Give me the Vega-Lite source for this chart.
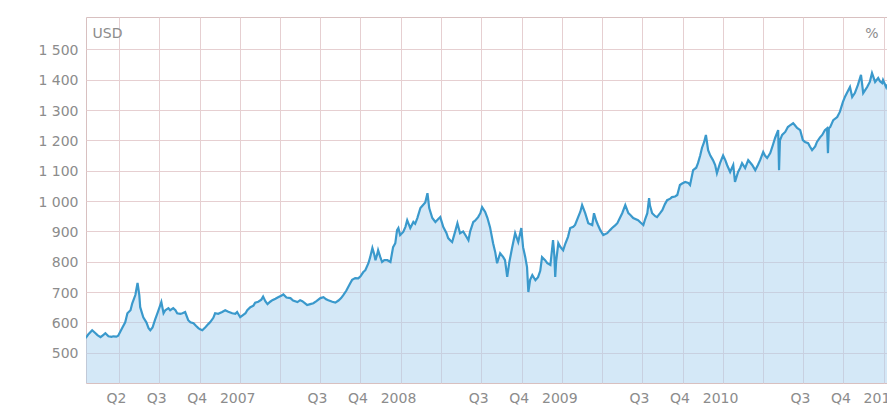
{
  "$schema": "https://vega.github.io/schema/vega-lite/v6.json",
  "width": 801,
  "height": 366,
  "autosize": {"type": "none"},
  "padding": {"left": 86, "top": 17, "right": 0, "bottom": 25},
  "background": "white",
  "config": {
    "view": {"stroke": "#d8c0c0", "strokeWidth": 1},
    "axis": {"labelFont": "DejaVu Sans", "labelFontSize": 14, "labelColor": "#8c8c8c", "titleFont": "DejaVu Sans", "titleColor": "#8c8c8c", "titleFontWeight": "normal", "titleFontSize": 14}
  },
  "data": {"values": [
    {"date": "2006-01-15", "usd": 548}, {"date": "2006-01-21", "usd": 560}, {"date": "2006-01-30", "usd": 574}, {"date": "2006-02-06", "usd": 565},
    {"date": "2006-02-11", "usd": 558}, {"date": "2006-02-18", "usd": 551}, {"date": "2006-02-24", "usd": 558}, {"date": "2006-03-01", "usd": 564},
    {"date": "2006-03-08", "usd": 554}, {"date": "2006-03-15", "usd": 552}, {"date": "2006-03-19", "usd": 554}, {"date": "2006-03-26", "usd": 553},
    {"date": "2006-03-30", "usd": 556}, {"date": "2006-04-04", "usd": 570}, {"date": "2006-04-09", "usd": 584}, {"date": "2006-04-15", "usd": 600},
    {"date": "2006-04-20", "usd": 630}, {"date": "2006-04-27", "usd": 640}, {"date": "2006-05-01", "usd": 663}, {"date": "2006-05-08", "usd": 690},
    {"date": "2006-05-13", "usd": 730}, {"date": "2006-05-17", "usd": 690}, {"date": "2006-05-19", "usd": 650}, {"date": "2006-05-26", "usd": 617},
    {"date": "2006-06-02", "usd": 600}, {"date": "2006-06-07", "usd": 581}, {"date": "2006-06-11", "usd": 574}, {"date": "2006-06-16", "usd": 583},
    {"date": "2006-06-22", "usd": 610}, {"date": "2006-06-27", "usd": 630}, {"date": "2006-07-02", "usd": 650}, {"date": "2006-07-06", "usd": 667},
    {"date": "2006-07-11", "usd": 630}, {"date": "2006-07-15", "usd": 640}, {"date": "2006-07-22", "usd": 647}, {"date": "2006-07-26", "usd": 640},
    {"date": "2006-08-02", "usd": 647}, {"date": "2006-08-07", "usd": 640}, {"date": "2006-08-11", "usd": 630}, {"date": "2006-08-18", "usd": 628},
    {"date": "2006-08-23", "usd": 630}, {"date": "2006-08-29", "usd": 634}, {"date": "2006-09-05", "usd": 607}, {"date": "2006-09-10", "usd": 600},
    {"date": "2006-09-17", "usd": 597}, {"date": "2006-09-23", "usd": 588}, {"date": "2006-09-28", "usd": 581}, {"date": "2006-10-02", "usd": 577},
    {"date": "2006-10-07", "usd": 574}, {"date": "2006-10-14", "usd": 584}, {"date": "2006-10-21", "usd": 595}, {"date": "2006-10-25", "usd": 601},
    {"date": "2006-11-01", "usd": 615}, {"date": "2006-11-05", "usd": 630}, {"date": "2006-11-12", "usd": 628}, {"date": "2006-11-21", "usd": 634},
    {"date": "2006-11-28", "usd": 640}, {"date": "2006-12-05", "usd": 635}, {"date": "2006-12-14", "usd": 630}, {"date": "2006-12-21", "usd": 628},
    {"date": "2006-12-25", "usd": 634}, {"date": "2007-01-01", "usd": 617}, {"date": "2007-01-08", "usd": 625}, {"date": "2007-01-13", "usd": 630},
    {"date": "2007-01-17", "usd": 640}, {"date": "2007-01-24", "usd": 650}, {"date": "2007-01-31", "usd": 655}, {"date": "2007-02-04", "usd": 665},
    {"date": "2007-02-11", "usd": 668}, {"date": "2007-02-18", "usd": 675}, {"date": "2007-02-22", "usd": 685}, {"date": "2007-02-27", "usd": 670},
    {"date": "2007-03-04", "usd": 660}, {"date": "2007-03-10", "usd": 668}, {"date": "2007-03-15", "usd": 673}, {"date": "2007-03-22", "usd": 678},
    {"date": "2007-03-28", "usd": 683}, {"date": "2007-04-04", "usd": 688}, {"date": "2007-04-09", "usd": 692}, {"date": "2007-04-16", "usd": 682},
    {"date": "2007-04-25", "usd": 680}, {"date": "2007-05-01", "usd": 672}, {"date": "2007-05-11", "usd": 667}, {"date": "2007-05-17", "usd": 673},
    {"date": "2007-05-22", "usd": 670}, {"date": "2007-05-29", "usd": 662}, {"date": "2007-06-02", "usd": 657}, {"date": "2007-06-09", "usd": 660},
    {"date": "2007-06-16", "usd": 663}, {"date": "2007-06-23", "usd": 670}, {"date": "2007-07-02", "usd": 680}, {"date": "2007-07-09", "usd": 683},
    {"date": "2007-07-15", "usd": 676}, {"date": "2007-07-20", "usd": 673}, {"date": "2007-07-29", "usd": 668}, {"date": "2007-08-05", "usd": 665},
    {"date": "2007-08-12", "usd": 672}, {"date": "2007-08-18", "usd": 680}, {"date": "2007-08-23", "usd": 690}, {"date": "2007-08-30", "usd": 705},
    {"date": "2007-09-08", "usd": 730}, {"date": "2007-09-12", "usd": 740}, {"date": "2007-09-19", "usd": 746}, {"date": "2007-09-26", "usd": 745},
    {"date": "2007-10-01", "usd": 752}, {"date": "2007-10-07", "usd": 765}, {"date": "2007-10-12", "usd": 772}, {"date": "2007-10-19", "usd": 795},
    {"date": "2007-10-23", "usd": 815}, {"date": "2007-10-28", "usd": 845}, {"date": "2007-11-01", "usd": 825}, {"date": "2007-11-04", "usd": 805},
    {"date": "2007-11-08", "usd": 825}, {"date": "2007-11-10", "usd": 838}, {"date": "2007-11-15", "usd": 815}, {"date": "2007-11-19", "usd": 799},
    {"date": "2007-11-24", "usd": 805}, {"date": "2007-12-01", "usd": 805}, {"date": "2007-12-08", "usd": 799}, {"date": "2007-12-14", "usd": 848},
    {"date": "2007-12-19", "usd": 861}, {"date": "2007-12-23", "usd": 904}, {"date": "2007-12-26", "usd": 911}, {"date": "2007-12-30", "usd": 888},
    {"date": "2008-01-06", "usd": 898}, {"date": "2008-01-11", "usd": 915}, {"date": "2008-01-15", "usd": 937}, {"date": "2008-01-22", "usd": 911},
    {"date": "2008-01-29", "usd": 931}, {"date": "2008-02-02", "usd": 925}, {"date": "2008-02-07", "usd": 944}, {"date": "2008-02-14", "usd": 977},
    {"date": "2008-02-20", "usd": 987}, {"date": "2008-02-25", "usd": 995}, {"date": "2008-03-01", "usd": 1026}, {"date": "2008-03-05", "usd": 977},
    {"date": "2008-03-12", "usd": 944}, {"date": "2008-03-19", "usd": 931}, {"date": "2008-03-25", "usd": 940}, {"date": "2008-03-30", "usd": 947},
    {"date": "2008-04-06", "usd": 914}, {"date": "2008-04-13", "usd": 895}, {"date": "2008-04-17", "usd": 878}, {"date": "2008-04-22", "usd": 870},
    {"date": "2008-04-26", "usd": 865}, {"date": "2008-05-03", "usd": 900}, {"date": "2008-05-08", "usd": 927}, {"date": "2008-05-14", "usd": 894},
    {"date": "2008-05-21", "usd": 900}, {"date": "2008-05-26", "usd": 888}, {"date": "2008-06-02", "usd": 871}, {"date": "2008-06-06", "usd": 900},
    {"date": "2008-06-13", "usd": 931}, {"date": "2008-06-17", "usd": 935}, {"date": "2008-06-24", "usd": 947}, {"date": "2008-06-29", "usd": 960},
    {"date": "2008-07-03", "usd": 980}, {"date": "2008-07-10", "usd": 964}, {"date": "2008-07-15", "usd": 945}, {"date": "2008-07-21", "usd": 914},
    {"date": "2008-07-28", "usd": 861}, {"date": "2008-08-02", "usd": 830}, {"date": "2008-08-06", "usd": 795}, {"date": "2008-08-13", "usd": 828},
    {"date": "2008-08-20", "usd": 815}, {"date": "2008-08-24", "usd": 805}, {"date": "2008-08-29", "usd": 750}, {"date": "2008-09-03", "usd": 800},
    {"date": "2008-09-09", "usd": 845}, {"date": "2008-09-16", "usd": 894}, {"date": "2008-09-23", "usd": 865}, {"date": "2008-09-30", "usd": 911},
    {"date": "2008-10-04", "usd": 848}, {"date": "2008-10-09", "usd": 815}, {"date": "2008-10-13", "usd": 782}, {"date": "2008-10-16", "usd": 700},
    {"date": "2008-10-20", "usd": 740}, {"date": "2008-10-25", "usd": 756}, {"date": "2008-11-01", "usd": 739}, {"date": "2008-11-07", "usd": 749},
    {"date": "2008-11-12", "usd": 770}, {"date": "2008-11-16", "usd": 815}, {"date": "2008-11-23", "usd": 805}, {"date": "2008-11-28", "usd": 795},
    {"date": "2008-12-05", "usd": 789}, {"date": "2008-12-11", "usd": 871}, {"date": "2008-12-14", "usd": 820}, {"date": "2008-12-16", "usd": 750},
    {"date": "2008-12-18", "usd": 800}, {"date": "2008-12-23", "usd": 861}, {"date": "2008-12-27", "usd": 850}, {"date": "2009-01-03", "usd": 838},
    {"date": "2009-01-08", "usd": 860}, {"date": "2009-01-14", "usd": 882}, {"date": "2009-01-19", "usd": 911}, {"date": "2009-01-26", "usd": 915},
    {"date": "2009-01-30", "usd": 921}, {"date": "2009-02-06", "usd": 947}, {"date": "2009-02-11", "usd": 965}, {"date": "2009-02-15", "usd": 987},
    {"date": "2009-02-22", "usd": 960}, {"date": "2009-03-01", "usd": 927}, {"date": "2009-03-10", "usd": 921}, {"date": "2009-03-14", "usd": 960},
    {"date": "2009-03-19", "usd": 935}, {"date": "2009-03-23", "usd": 921}, {"date": "2009-03-28", "usd": 905}, {"date": "2009-04-04", "usd": 888},
    {"date": "2009-04-13", "usd": 894}, {"date": "2009-04-20", "usd": 905}, {"date": "2009-04-24", "usd": 911}, {"date": "2009-05-01", "usd": 920},
    {"date": "2009-05-06", "usd": 927}, {"date": "2009-05-12", "usd": 945}, {"date": "2009-05-17", "usd": 960}, {"date": "2009-05-24", "usd": 987},
    {"date": "2009-05-31", "usd": 960}, {"date": "2009-06-04", "usd": 955}, {"date": "2009-06-11", "usd": 944}, {"date": "2009-06-22", "usd": 937},
    {"date": "2009-06-27", "usd": 930}, {"date": "2009-07-04", "usd": 921}, {"date": "2009-07-08", "usd": 940}, {"date": "2009-07-13", "usd": 960},
    {"date": "2009-07-17", "usd": 1010}, {"date": "2009-07-19", "usd": 985}, {"date": "2009-07-24", "usd": 960}, {"date": "2009-07-31", "usd": 950},
    {"date": "2009-08-04", "usd": 947}, {"date": "2009-08-11", "usd": 960}, {"date": "2009-08-16", "usd": 970}, {"date": "2009-08-22", "usd": 990},
    {"date": "2009-08-27", "usd": 1003}, {"date": "2009-09-03", "usd": 1008}, {"date": "2009-09-07", "usd": 1013}, {"date": "2009-09-14", "usd": 1015},
    {"date": "2009-09-19", "usd": 1020}, {"date": "2009-09-25", "usd": 1053}, {"date": "2009-09-30", "usd": 1058}, {"date": "2009-10-07", "usd": 1063},
    {"date": "2009-10-14", "usd": 1060}, {"date": "2009-10-18", "usd": 1053}, {"date": "2009-10-25", "usd": 1102}, {"date": "2009-11-01", "usd": 1110},
    {"date": "2009-11-05", "usd": 1125}, {"date": "2009-11-10", "usd": 1150}, {"date": "2009-11-14", "usd": 1175}, {"date": "2009-11-19", "usd": 1195},
    {"date": "2009-11-23", "usd": 1218}, {"date": "2009-11-28", "usd": 1168}, {"date": "2009-12-03", "usd": 1150}, {"date": "2009-12-09", "usd": 1135},
    {"date": "2009-12-14", "usd": 1119}, {"date": "2009-12-18", "usd": 1092}, {"date": "2009-12-25", "usd": 1125}, {"date": "2010-01-01", "usd": 1150},
    {"date": "2010-01-06", "usd": 1135}, {"date": "2010-01-10", "usd": 1119}, {"date": "2010-01-17", "usd": 1096}, {"date": "2010-01-24", "usd": 1119},
    {"date": "2010-01-28", "usd": 1063}, {"date": "2010-02-04", "usd": 1096}, {"date": "2010-02-09", "usd": 1110}, {"date": "2010-02-13", "usd": 1125},
    {"date": "2010-02-20", "usd": 1109}, {"date": "2010-02-27", "usd": 1135}, {"date": "2010-03-03", "usd": 1128}, {"date": "2010-03-08", "usd": 1119},
    {"date": "2010-03-15", "usd": 1102}, {"date": "2010-03-21", "usd": 1119}, {"date": "2010-03-26", "usd": 1135}, {"date": "2010-04-02", "usd": 1162},
    {"date": "2010-04-06", "usd": 1150}, {"date": "2010-04-11", "usd": 1142}, {"date": "2010-04-18", "usd": 1158}, {"date": "2010-04-24", "usd": 1185},
    {"date": "2010-04-29", "usd": 1208}, {"date": "2010-05-06", "usd": 1234}, {"date": "2010-05-08", "usd": 1102}, {"date": "2010-05-10", "usd": 1200},
    {"date": "2010-05-15", "usd": 1218}, {"date": "2010-05-22", "usd": 1228}, {"date": "2010-05-28", "usd": 1244}, {"date": "2010-06-02", "usd": 1250},
    {"date": "2010-06-09", "usd": 1257}, {"date": "2010-06-13", "usd": 1250}, {"date": "2010-06-18", "usd": 1241}, {"date": "2010-06-25", "usd": 1234},
    {"date": "2010-07-01", "usd": 1201}, {"date": "2010-07-06", "usd": 1195}, {"date": "2010-07-13", "usd": 1191}, {"date": "2010-07-17", "usd": 1180},
    {"date": "2010-07-22", "usd": 1168}, {"date": "2010-07-29", "usd": 1180}, {"date": "2010-08-02", "usd": 1195}, {"date": "2010-08-09", "usd": 1210},
    {"date": "2010-08-14", "usd": 1218}, {"date": "2010-08-20", "usd": 1234}, {"date": "2010-08-25", "usd": 1240}, {"date": "2010-08-27", "usd": 1158},
    {"date": "2010-08-29", "usd": 1240}, {"date": "2010-09-01", "usd": 1244}, {"date": "2010-09-08", "usd": 1267}, {"date": "2010-09-17", "usd": 1277},
    {"date": "2010-09-23", "usd": 1294}, {"date": "2010-09-30", "usd": 1327}, {"date": "2010-10-05", "usd": 1345}, {"date": "2010-10-09", "usd": 1356},
    {"date": "2010-10-16", "usd": 1376}, {"date": "2010-10-21", "usd": 1343}, {"date": "2010-10-27", "usd": 1356}, {"date": "2010-11-03", "usd": 1383},
    {"date": "2010-11-10", "usd": 1416}, {"date": "2010-11-15", "usd": 1356}, {"date": "2010-11-19", "usd": 1365}, {"date": "2010-11-24", "usd": 1376},
    {"date": "2010-11-30", "usd": 1393}, {"date": "2010-12-05", "usd": 1422}, {"date": "2010-12-12", "usd": 1393}, {"date": "2010-12-19", "usd": 1406},
    {"date": "2010-12-23", "usd": 1395}, {"date": "2010-12-28", "usd": 1389}, {"date": "2010-12-30", "usd": 1399}, {"date": "2011-01-06", "usd": 1376},
    {"date": "2011-01-08", "usd": 1385}
  ]},
  "encoding": {
    "x": {
      "field": "date",
      "type": "temporal",
      "scale": {"domain": [{"year": 2006, "month": 1, "date": 16}, {"year": 2011, "month": 1, "date": 8}]},
      "axis": {
        "title": null,
        "values": [
          {"year": 2006, "month": 4, "date": 1}, {"year": 2006, "month": 7, "date": 1}, {"year": 2006, "month": 10, "date": 1},
          {"year": 2007, "month": 1, "date": 1}, {"year": 2007, "month": 4, "date": 1}, {"year": 2007, "month": 7, "date": 1}, {"year": 2007, "month": 10, "date": 1},
          {"year": 2008, "month": 1, "date": 1}, {"year": 2008, "month": 4, "date": 1}, {"year": 2008, "month": 7, "date": 1}, {"year": 2008, "month": 10, "date": 1},
          {"year": 2009, "month": 1, "date": 1}, {"year": 2009, "month": 4, "date": 1}, {"year": 2009, "month": 7, "date": 1}, {"year": 2009, "month": 10, "date": 1},
          {"year": 2010, "month": 1, "date": 1}, {"year": 2010, "month": 4, "date": 1}, {"year": 2010, "month": 7, "date": 1}, {"year": 2010, "month": 10, "date": 1},
          {"year": 2011, "month": 1, "date": 1}
        ],
        "labelExpr": "month(datum.value) == 0 ? timeFormat(datum.value, '%Y') : (month(datum.value) == 3 ? (year(datum.value) == 2006 ? 'Q2' : '') : (month(datum.value) == 6 ? 'Q3' : 'Q4'))",
        "grid": true,
        "gridColor": "#e6cfd1",
        "gridOpacity": 1,
        "ticks": false,
        "domain": false,
        "labelPadding": 8,
        "labelOffset": -3,
        "labelOverlap": false,
        "labelBound": false,
        "labelFlush": false
      }
    }
  },
  "layer": [
    {
      "mark": {"type": "area", "color": "#a9d1ef", "opacity": 0.5, "clip": true},
      "encoding": {
        "y": {
          "field": "usd",
          "type": "quantitative",
          "scale": {"domain": [400, 1607], "zero": false, "nice": false},
          "axis": {
            "values": [500, 600, 700, 800, 900, 1000, 1100, 1200, 1300, 1400, 1500],
            "labelExpr": "datum.value >= 1000 ? floor(datum.value / 1000) + ' ' + substring(format(datum.value, 'd'), 1) : format(datum.value, 'd')",
            "grid": true,
            "gridColor": "#e6cfd1",
            "gridOpacity": 1,
            "ticks": false,
            "domain": false,
            "labelPadding": 8,
            "labelOffset": 1,
            "title": "USD",
            "titleAngle": 0,
            "titleX": 6,
            "titleY": 20,
            "titleAlign": "left",
            "titleBaseline": "alphabetic"
          }
        },
        "y2": {"datum": 400}
      }
    },
    {
      "mark": {"type": "line", "color": "#3a99cc", "strokeWidth": 2.2, "clip": true},
      "encoding": {
        "y": {
          "field": "usd",
          "type": "quantitative",
          "scale": {"domain": [400, 1607], "zero": false, "nice": false},
          "axis": {
            "orient": "right",
            "labels": false,
            "grid": false,
            "ticks": false,
            "domain": false,
            "title": "%",
            "titleAngle": 0,
            "titleX": -9,
            "titleY": 20,
            "titleAlign": "right",
            "titleBaseline": "alphabetic"
          }
        }
      }
    }
  ],
  "resolve": {"scale": {"y": "independent"}}
}
